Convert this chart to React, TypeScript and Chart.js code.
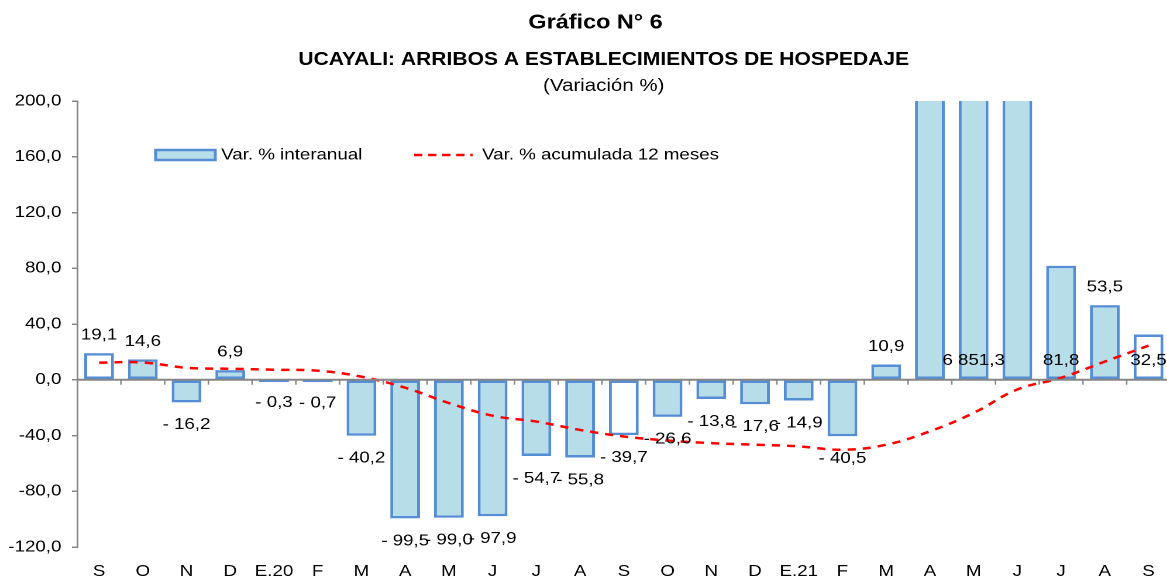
import { useEffect, useRef } from "react";
import { Chart, registerables } from "chart.js";

Chart.register(...registerables);

// ---- data ----
const categories = ["S", "O", "N", "D", "E.20", "F", "M", "A", "M", "J", "J", "A", "S", "O", "N", "D", "E.21", "F", "M", "A", "M", "J", "J", "A", "S"];
const interanual = [19.1, 14.6, -16.2, 6.9, -0.3, -0.7, -40.2, -99.5, -99.0, -97.9, -54.7, -55.8, -39.7, -26.6, -13.8, -17.6, -14.9, -40.5, 10.9, 12000.0, 6851.3, 2500.0, 81.8, 53.5, 32.5];
const acumulada12 = [12.3, 12.4, 8.6, 7.9, 7.2, 6.5, 2.2, -5.7, -16.7, -25.8, -30.0, -36.0, -40.7, -43.6, -45.5, -46.6, -47.8, -50.2, -46.6, -37.0, -23.8, -7.0, 1.4, 13.0, 24.5];
// labels not shown for these bars
const hiddenLabels = [19, 21];
// labels placed at a fixed value (data units) instead of at the bar end
const labelAnchors: Record<number, number> = { 20: 13.8, 22: 13.8, 24: 13.8 };
// bars drawn with white fill
const whiteBars = [0, 12, 24];
const yMin = -120;
const yMax = 200;
const yStep = 40;
const seriesNames = ["Var. % interanual", "Var. % acumulada 12 meses"];
const titleLines = ["Gráfico N° 6", "UCAYALI: ARRIBOS A ESTABLECIMIENTOS DE HOSPEDAJE", "(Variación %)"];

// ---- styles ----
const STRETCH = 1.17;
const INNER_W = 1002;
const FONT = "'Liberation Sans', Arial, Helvetica, sans-serif";
const BAR_FILL = "#B7DEE8";
const BAR_BORDER = "#558ED5";
const LINE_COLOR = "#FF0000";
const AXIS_COLOR = "#868686";

function fmtTick(v: number) {
  return v.toFixed(1).replace(".", ",");
}
function fmtLabel(v: number) {
  const abs = Math.abs(v);
  const [int, dec] = abs.toFixed(1).split(".");
  const intS = int.replace(/\B(?=(\d{3})+(?!\d))/g, " ");
  return (v < 0 ? "- " : "") + intS + "," + dec;
}

const zeroLinePlugin = {
  id: "zeroLine",
  afterDatasetsDraw(chart: any) {
    const { ctx, chartArea, scales } = chart;
    const x = scales.x;
    const y0 = scales.y.getPixelForValue(0);
    ctx.save();
    ctx.strokeStyle = AXIS_COLOR;
    ctx.lineWidth = 2;
    ctx.beginPath();
    ctx.moveTo(chartArea.left, y0);
    ctx.lineTo(chartArea.right, y0);
    ctx.stroke();
    ctx.lineWidth = 1.3;
    const n = categories.length;
    const w = (chartArea.right - chartArea.left) / n;
    for (let i = 1; i <= n; i++) {
      const bx = x.getPixelForValue(i) - w / 2;
      ctx.beginPath();
      ctx.moveTo(bx, y0);
      ctx.lineTo(bx, y0 + 5);
      ctx.stroke();
    }
    // very small bars remain visible as a thin line just under the axis
    const meta = chart.getDatasetMeta(0);
    ctx.strokeStyle = BAR_BORDER;
    ctx.lineWidth = 1.5;
    interanual.forEach((v, i) => {
      if (Math.abs(v) < 1) {
        const bar = meta.data[i];
        ctx.beginPath();
        ctx.moveTo(bar.x - bar.width / 2, y0 + 1.5);
        ctx.lineTo(bar.x + bar.width / 2, y0 + 1.5);
        ctx.stroke();
      }
    });
    ctx.restore();
  },
};

const dataLabelPlugin = {
  id: "dataLabels",
  afterDatasetsDraw(chart: any) {
    const { ctx, scales } = chart;
    const meta = chart.getDatasetMeta(0);
    ctx.save();
    ctx.font = `16px ${FONT}`;
    ctx.fillStyle = "#000";
    ctx.textAlign = "center";
    ctx.textBaseline = "middle";
    interanual.forEach((v, i) => {
      if (hiddenLabels.includes(i)) return;
      const bar = meta.data[i];
      let y: number;
      if (labelAnchors[i] !== undefined) y = scales.y.getPixelForValue(labelAnchors[i]);
      else if (v >= 0) y = scales.y.getPixelForValue(v) - 18;
      else y = scales.y.getPixelForValue(v) + 22.5;
      ctx.fillText(fmtLabel(v), bar.x, y);
    });
    ctx.restore();
  },
};

const legendTitlePlugin = {
  id: "legendTitle",
  afterDraw(chart: any) {
    const { ctx } = chart;
    ctx.save();
    // titles
    ctx.fillStyle = "#000";
    ctx.textAlign = "center";
    ctx.textBaseline = "middle";
    ctx.font = `bold 20px ${FONT}`;
    ctx.fillText(titleLines[0], 509, 23);
    ctx.font = `bold 18px ${FONT}`;
    ctx.fillText(titleLines[1], 516, 60);
    ctx.font = `17.5px ${FONT}`;
    ctx.fillText(titleLines[2], 516, 86);

    // legend
    ctx.textAlign = "left";
    ctx.font = `16px ${FONT}`;
    ctx.fillStyle = BAR_FILL;
    ctx.fillRect(133, 150, 51, 10);
    ctx.strokeStyle = BAR_BORDER;
    ctx.lineWidth = 2.5;
    ctx.strokeRect(133, 150, 51, 10);
    ctx.fillStyle = "#000";
    ctx.fillText(seriesNames[0], 189, 155);

    ctx.strokeStyle = LINE_COLOR;
    ctx.lineWidth = 2.5;
    ctx.setLineDash([7, 5]);
    ctx.beginPath();
    ctx.moveTo(354, 155);
    ctx.lineTo(404, 155);
    ctx.stroke();
    ctx.setLineDash([]);
    ctx.fillText(seriesNames[1], 412, 155);
    ctx.restore();
  },
};

export default function App() {
  const ref = useRef<HTMLCanvasElement>(null);
  useEffect(() => {
    const chart = new Chart(ref.current as HTMLCanvasElement, {
      type: "bar",
      data: {
        labels: categories,
        datasets: [
          {
            type: "bar",
            label: seriesNames[0],
            data: interanual,
            backgroundColor: interanual.map((_, i) => (whiteBars.includes(i) ? "#FFFFFF" : BAR_FILL)),
            borderColor: BAR_BORDER,
            borderWidth: 2.5,
            borderSkipped: false,
            barPercentage: 0.68,
            categoryPercentage: 1,
            order: 2,
          } as any,
          {
            type: "line",
            label: seriesNames[1],
            data: acumulada12,
            borderColor: LINE_COLOR,
            borderWidth: 2.5,
            borderDash: [7, 6],
            pointRadius: 0,
            tension: 0.4,
            fill: false,
            order: 1,
          } as any,
        ],
      },
      options: {
        animation: false,
        responsive: true,
        maintainAspectRatio: false,
        devicePixelRatio: 2,
        layout: { padding: { top: 101, left: 0, right: 0, bottom: 0 } },
        plugins: {
          legend: { display: false },
          tooltip: { enabled: false },
          title: { display: false },
        },
        scales: {
          x: {
            type: "category",
            offset: true,
            grid: { display: false, drawTicks: false },
            border: { display: false },
            ticks: {
              font: { family: FONT, size: 16 },
              color: "#000",
              padding: 15,
              maxRotation: 0,
              autoSkip: false,
            },
            afterFit: (s: any) => {
              s.height = 31;
            },
          },
          y: {
            min: yMin,
            max: yMax,
            ticks: {
              stepSize: yStep,
              callback: (v: any) => fmtTick(Number(v)),
              font: { family: FONT, size: 16 },
              color: "#000",
              padding: 9,
            },
            grid: {
              drawOnChartArea: false,
              drawTicks: true,
              tickLength: 4.5,
              color: AXIS_COLOR,
              lineWidth: 1.5,
            },
            border: { color: AXIS_COLOR, width: 1.5 },
            afterFit: (s: any) => {
              s.width = 66;
            },
          },
        },
      } as any,
      plugins: [zeroLinePlugin, dataLabelPlugin, legendTitlePlugin],
    });
    return () => chart.destroy();
  }, []);

  return (
    <div style={{ position: "absolute", left: 0, top: 0, width: 1167, height: 578, overflow: "hidden", background: "#fff" }}>
      <div
        style={{
          position: "absolute",
          left: 0,
          top: 0,
          width: INNER_W,
          height: 578,
          transform: `scaleX(${STRETCH})`,
          transformOrigin: "0 0",
        }}
      >
        <canvas ref={ref} />
      </div>
    </div>
  );
}
